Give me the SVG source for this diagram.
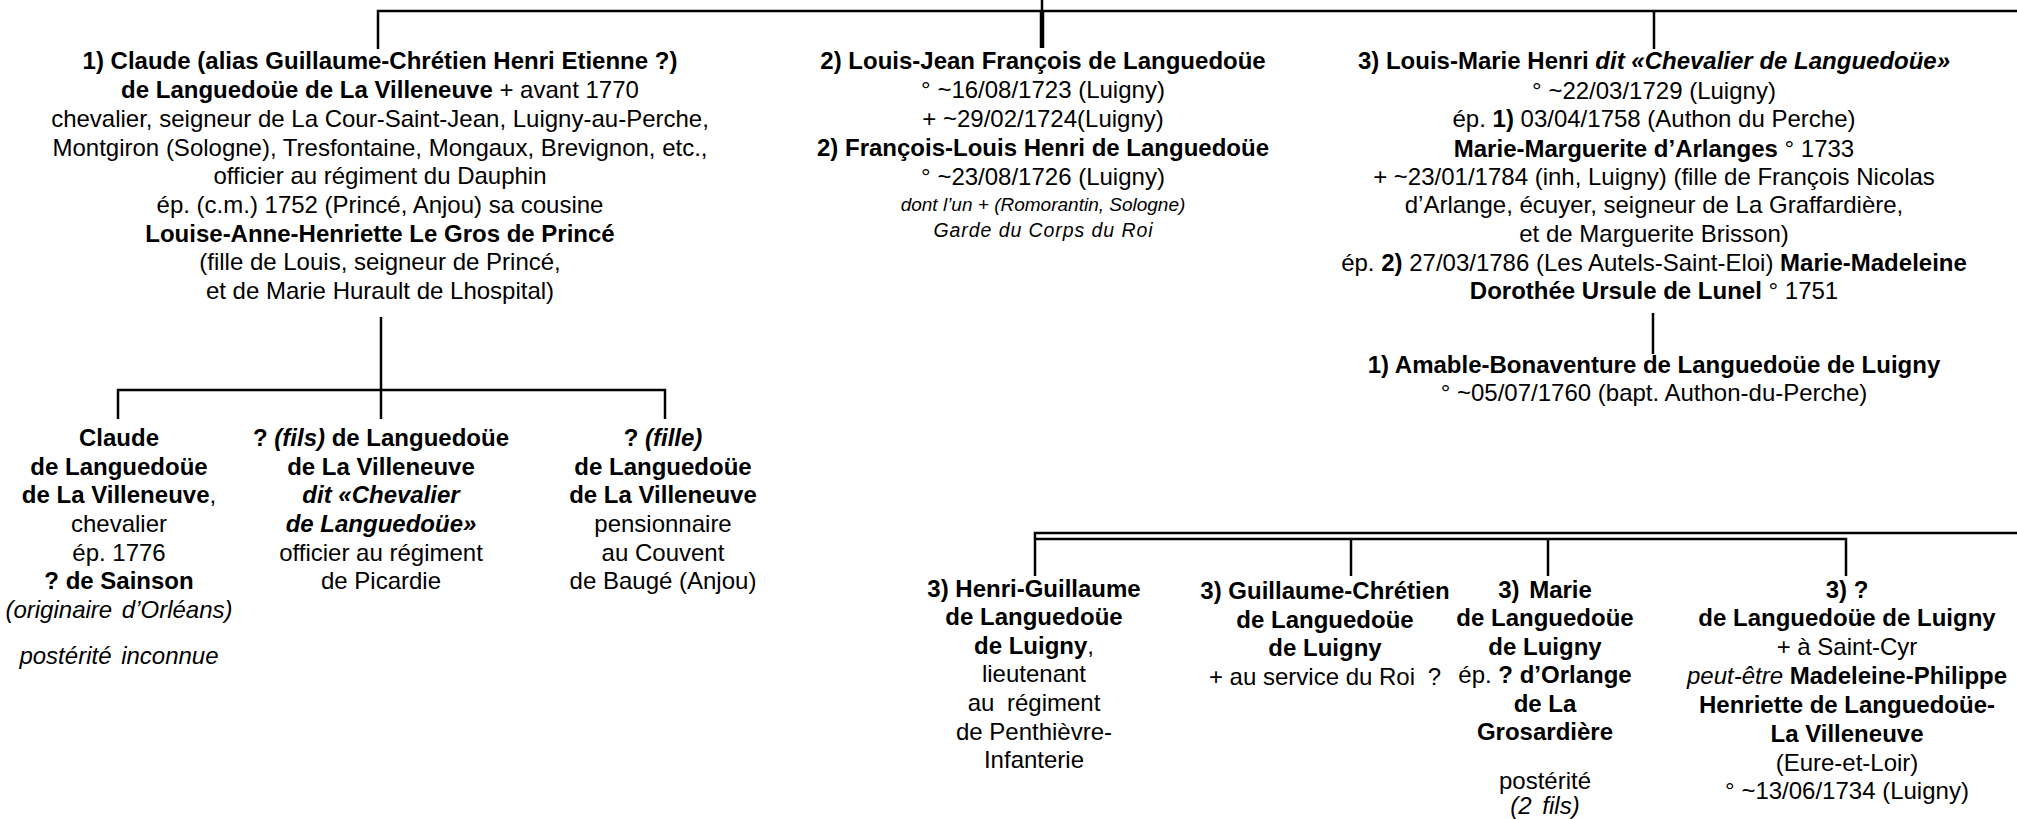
<svg xmlns="http://www.w3.org/2000/svg" width="2017" height="819" viewBox="0 0 2017 819">
<style>
text{font-family:"Liberation Sans",Arial,sans-serif;font-size:24px;fill:#000;text-anchor:middle}
.b{font-weight:bold}
.i{font-style:italic}
.s{font-size:19.5px}
.s19{font-size:19px}
.ln{stroke:#000;stroke-width:2.5;fill:none}
</style>
<rect x="0" y="0" width="2017" height="819" fill="#fff"/>
<g id="connectors">
<path class="ln" d="M378,49 V11 H2017"/>
<path class="ln" d="M1042,0 V11"/>
<path d="M1042,11 V48" stroke="#000" stroke-width="4.5"/>
<path class="ln" d="M1654,11 V49"/>
<path class="ln" d="M381,317 V419"/>
<path class="ln" d="M118,419 V390 H665 V419"/>
<path class="ln" d="M1653,313 V354"/>
<path class="ln" d="M1035,576 V533 H2017"/>
<path class="ln" d="M1036,539 H1846 V576"/>
<path class="ln" d="M1351,539 V576"/>
<path class="ln" d="M1548,539 V576"/>
</g>
<g id="n1">
<text x="380" y="69" class="b">1) Claude (alias Guillaume-Chrétien Henri Etienne ?)</text>
<text x="380" y="98"><tspan class="b">de Languedoüe de La Villeneuve</tspan> + avant 1770</text>
<text x="380" y="127">chevalier, seigneur de La Cour-Saint-Jean, Luigny-au-Perche,</text>
<text x="380" y="155.5">Montgiron (Sologne), Tresfontaine, Mongaux, Brevignon, etc.,</text>
<text x="380" y="184">officier au régiment du Dauphin</text>
<text x="380" y="213">ép. (c.m.) 1752 (Princé, Anjou) sa cousine</text>
<text x="380" y="241.5" class="b">Louise-Anne-Henriette Le Gros de Princé</text>
<text x="380" y="270">(fille de Louis, seigneur de Princé,</text>
<text x="380" y="299">et de Marie Hurault de Lhospital)</text>
</g>
<g id="n2">
<text x="1043" y="69" class="b">2) Louis-Jean François de Languedoüe</text>
<text x="1043" y="98">° ~16/08/1723 (Luigny)</text>
<text x="1043" y="127">+ ~29/02/1724(Luigny)</text>
<text x="1043" y="156" class="b">2) François-Louis Henri de Languedoüe</text>
<text x="1043" y="185">° ~23/08/1726 (Luigny)</text>
<text x="1043" y="211" class="i s19">dont l’un + (Romorantin, Sologne)</text>
<text x="1043" y="237" class="i s" textLength="219" lengthAdjust="spacing">Garde du Corps du Roi</text>
</g>
<g id="n3">
<text x="1654" y="69"><tspan class="b">3) Louis-Marie Henri </tspan><tspan class="b i">dit «Chevalier de Languedoüe»</tspan></text>
<text x="1654" y="98.5">° ~22/03/1729 (Luigny)</text>
<text x="1654" y="127">ép. <tspan class="b">1)</tspan> 03/04/1758 (Authon du Perche)</text>
<text x="1654" y="156.5"><tspan class="b">Marie-Marguerite d’Arlanges</tspan> ° 1733</text>
<text x="1654" y="184.5">+ ~23/01/1784 (inh, Luigny) (fille de François Nicolas</text>
<text x="1654" y="213">d’Arlange, écuyer, seigneur de La Graffardière,</text>
<text x="1654" y="241.5">et de Marguerite Brisson)</text>
<text x="1654" y="271">ép. <tspan class="b">2)</tspan> 27/03/1786 (Les Autels-Saint-Eloi) <tspan class="b">Marie-Madeleine</tspan></text>
<text x="1654" y="299"><tspan class="b">Dorothée Ursule de Lunel</tspan> ° 1751</text>
</g>
<g id="n4">
<text x="1654" y="372.5" class="b">1) Amable-Bonaventure de Languedoüe de Luigny</text>
<text x="1654" y="400.5">° ~05/07/1760 (bapt. Authon-du-Perche)</text>
</g>
<g id="c1">
<text x="119" y="446" class="b">Claude</text>
<text x="119" y="474.5" class="b">de Languedoüe</text>
<text x="119" y="503"><tspan class="b">de La Villeneuve</tspan>,</text>
<text x="119" y="532">chevalier</text>
<text x="119" y="560.5">ép. 1776</text>
<text x="119" y="589" class="b">? de Sainson</text>
<text x="119" y="618" class="i" word-spacing="3">(originaire d’Orléans)</text>
<text x="119" y="664" class="i" word-spacing="3">postérité inconnue</text>
</g>
<g id="c2">
<text x="381" y="446"><tspan class="b">? </tspan><tspan class="b i">(fils)</tspan><tspan class="b"> de Languedoüe</tspan></text>
<text x="381" y="474.5" class="b">de La Villeneuve</text>
<text x="381" y="503" class="b i">dit «Chevalier</text>
<text x="381" y="532" class="b i">de Languedoüe»</text>
<text x="381" y="560.5">officier au régiment</text>
<text x="381" y="589">de Picardie</text>
</g>
<g id="c3">
<text x="663" y="446"><tspan class="b">? </tspan><tspan class="b i">(fille)</tspan></text>
<text x="663" y="474.5" class="b">de Languedoüe</text>
<text x="663" y="503" class="b">de La Villeneuve</text>
<text x="663" y="532">pensionnaire</text>
<text x="663" y="560.5">au Couvent</text>
<text x="663" y="589">de Baugé (Anjou)</text>
</g>
<g id="c4">
<text x="1034" y="596.5" class="b">3) Henri-Guillaume</text>
<text x="1034" y="625" class="b">de Languedoüe</text>
<text x="1034" y="653.7"><tspan class="b">de Luigny</tspan>,</text>
<text x="1034" y="682.3">lieutenant</text>
<text x="1034" y="711" word-spacing="6">au régiment</text>
<text x="1034" y="739.5">de Penthièvre-</text>
<text x="1034" y="768">Infanterie</text>
</g>
<g id="c5">
<text x="1325" y="599" class="b">3) Guillaume-Chrétien</text>
<text x="1325" y="627.5" class="b">de Languedoüe</text>
<text x="1325" y="656" class="b">de Luigny</text>
<text x="1325" y="685">+ au service du Roi <tspan dx="6">?</tspan></text>
</g>
<g id="c6">
<text x="1545" y="597.5" class="b" word-spacing="3">3) Marie</text>
<text x="1545" y="626" class="b">de Languedoüe</text>
<text x="1545" y="654.5" class="b">de Luigny</text>
<text x="1545" y="683">ép. <tspan class="b">? d’Orlange</tspan></text>
<text x="1545" y="711.5" class="b">de La</text>
<text x="1545" y="740" class="b">Grosardière</text>
<text x="1545" y="789">postérité</text>
<text x="1545" y="814" class="i" word-spacing="4">(2 fils)</text>
</g>
<g id="c7">
<text x="1847" y="597.5" class="b">3) ?</text>
<text x="1847" y="626" class="b">de Languedoüe de Luigny</text>
<text x="1847" y="655">+ à Saint-Cyr</text>
<text x="1847" y="683.5"><tspan class="i">peut-être</tspan> <tspan class="b">Madeleine-Philippe</tspan></text>
<text x="1847" y="712.5" class="b">Henriette de Languedoüe-</text>
<text x="1847" y="741.5" class="b">La Villeneuve</text>
<text x="1847" y="770.5">(Eure-et-Loir)</text>
<text x="1847" y="798.5">° ~13/06/1734 (Luigny)</text>
</g>
</svg>
